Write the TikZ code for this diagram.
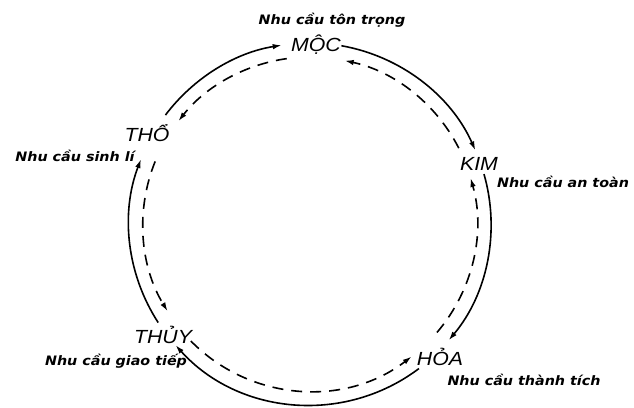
\documentclass[tikz,border=0pt]{standalone}
\usepackage{fontspec}
\setmainfont{Liberation Sans}
\newfontfamily\smallfont{DejaVu Sans}
\usetikzlibrary{arrows.meta}
\tikzset{
  element/.style={font=\fontsize{19}{19}\selectfont\itshape, inner sep=0pt, xscale=1.12},
  need/.style={font=\smallfont\fontsize{13}{14}\selectfont\bfseries\itshape, inner sep=0pt, xscale=1.1},
  sheng/.style={line width=1.6pt, -{Latex[length=9pt,width=5.5pt]}},
  ke/.style={line width=1.6pt, dash pattern=on 11pt off 8pt, -{Latex[length=9pt,width=5.5pt]}},
}
\begin{document}
\begin{tikzpicture}[x=1pt,y=1pt]
\useasboundingbox (0,0) rectangle (634,407);
\coordinate (c) at (310,183);
% element labels
\node[element] (moc) at (316,362) {MỘC};
\node[element] (kim) at (479,243) {KIM};
\node[element] (hoa) at (440,50) {HỎA};
\node[element] (thuy) at (163,72) {THỦY};
\node[element] (tho) at (147,274) {THỔ};
% need labels
\node[need] (nmoc) at (332,387) {Nhu cầu tôn trọng};
\node[need] (nkim) at (563,225) {Nhu cầu an toàn};
\node[need] (nhoa) at (524,27) {Nhu cầu thành tích};
\node[need] (nthuy) at (116,46) {Nhu cầu giao tiếp};
\node[need] (ntho) at (75,251) {Nhu cầu sinh lí};
\def\ro{181}
\def\ri{167}
% arc start points
\coordinate (o1) at ([shift={(143:\ro)}]c);
\coordinate (o2) at ([shift={(80:\ro)}]c);
\coordinate (o3) at ([shift={(16:\ro)}]c);
\coordinate (o4) at ([shift={(-53:\ro)}]c);
\coordinate (o5) at ([shift={(213:\ro)}]c);
\coordinate (i1) at ([shift={(27:\ri)}]c);
\coordinate (i2) at ([shift={(98:\ri)}]c);
\coordinate (i3) at ([shift={(158:\ri)}]c);
\coordinate (i4) at ([shift={(224.5:\ri)}]c);
\coordinate (i5) at ([shift={(-40.5:\ri)}]c);
% outer solid arcs (clockwise)
\draw[sheng] (o1) arc[start angle=143, end angle=99, radius=\ro];
\draw[sheng] (o2) arc[start angle=80, end angle=24, radius=\ro];
\draw[sheng] (o3) arc[start angle=16, end angle=-40, radius=\ro];
\draw[sheng] (o4) arc[start angle=-53, end angle=-138, radius=\ro];
\draw[sheng] (o5) arc[start angle=213, end angle=159, radius=\ro];
% inner dashed arcs (counter-clockwise)
\draw[ke] (i1) arc[start angle=27, end angle=78, radius=\ri];
\draw[ke] (i2) arc[start angle=98, end angle=142, radius=\ri];
\draw[ke] (i3) arc[start angle=158, end angle=211.5, radius=\ri];
\draw[ke] (i4) arc[start angle=224.5, end angle=307.5, radius=\ri];
\draw[ke] (i5) arc[start angle=-40.5, end angle=16, radius=\ri];
\end{tikzpicture}
\end{document}
